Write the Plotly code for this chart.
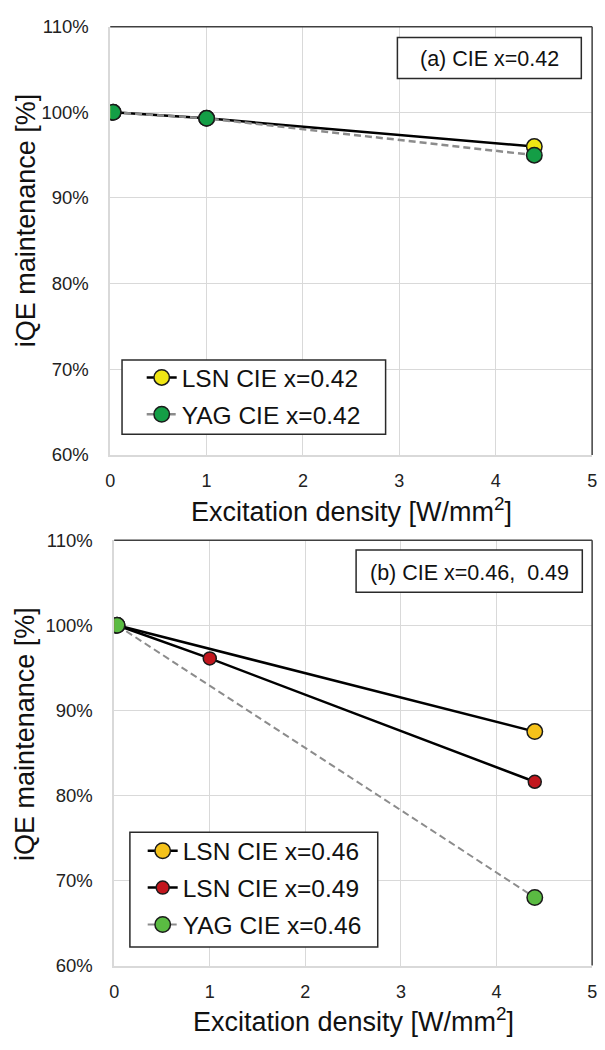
import plotly.graph_objects as go

# ---- data ----
x_a = [0.03, 1.0, 4.4]
lsn_042 = [100.0, 99.3, 96.0]
yag_042 = [100.0, 99.3, 95.0]

x_b2 = [0.03, 4.4]
x_b3 = [0.03, 1.0, 4.4]
lsn_046 = [100.0, 87.5]
lsn_049 = [100.0, 96.1, 81.6]
yag_046 = [100.0, 68.0]

x_ticks = [0, 1, 2, 3, 4, 5]
y_ticks = [60, 70, 80, 90, 100, 110]
y_ticklabels = ["60%", "70%", "80%", "90%", "100%", "110%"]

FONT = "Arial, Liberation Sans, sans-serif"
W, H = 605, 1050

fig = go.Figure()

def add(x, y, name, color, dash, size, xa, ya, legend, lcolor, lwidth):
    fig.add_trace(go.Scatter(
        x=x, y=y, name=name, mode="lines+markers",
        line=dict(color=lcolor, width=lwidth, dash=dash),
        marker=dict(size=size, color=color, line=dict(color="#1a1a1a", width=1.5)),
        xaxis=xa, yaxis=ya, legend=legend, legendgroup=name,
    ))

DASH = "7px,4px"
add(x_a, lsn_042, "LSN CIE x=0.42", "#f0e614", "solid", 15.5, "x", "y", "legend", "#000000", 2.5)
add(x_a, yag_042, "YAG CIE x=0.42", "#149e46", DASH, 15.5, "x", "y", "legend", "#8c8c8c", 2.5)
add(x_b2, lsn_046, "LSN CIE x=0.46", "#f5c21a", "solid", 15.5, "x2", "y2", "legend2", "#000000", 2.5)
add(x_b3, lsn_049, "LSN CIE x=0.49", "#c2161d", "solid", 13, "x2", "y2", "legend2", "#000000", 2.5)
add(x_b2, yag_046, "YAG CIE x=0.46", "#5abb42", DASH, 15.5, "x2", "y2", "legend2", "#8c8c8c", 2)

grid = "#d9d9d9"
xcommon = dict(range=[0, 5], tickvals=x_ticks, showgrid=True, gridcolor=grid, gridwidth=1,
               showline=True, linecolor=grid, linewidth=1.5, zeroline=False,
               ticks="outside", ticklen=9, tickcolor="rgba(0,0,0,0)",
               tickfont=dict(size=18, color="#222222", family=FONT))
ycommon = dict(range=[60, 110], tickvals=y_ticks, ticktext=y_ticklabels, showgrid=True,
               gridcolor=grid, gridwidth=1, showline=True, linecolor=grid, linewidth=1.5,
               zeroline=False, ticks="outside", ticklen=16, tickcolor="rgba(0,0,0,0)",
               tickfont=dict(size=18.5, color="#222222", family=FONT))

legend_common = dict(xanchor="left", yanchor="top", bgcolor="rgba(0,0,0,0)",
                     borderwidth=0,
                     font=dict(size=24.5, family=FONT, color="#111111"),
                     traceorder="grouped", tracegroupgap=2, itemwidth=30)

fig.update_layout(
    width=W, height=H,
    margin=dict(l=0, r=0, t=0, b=0),
    paper_bgcolor="white", plot_bgcolor="white",
    font=dict(family=FONT, color="#111111"),
    xaxis=dict(domain=[107/W, 597/W], anchor="y", **xcommon),
    yaxis=dict(domain=[1-453/H, 1-16/H], anchor="x", **ycommon),
    xaxis2=dict(domain=[111/W, 597/W], anchor="y2", **xcommon),
    yaxis2=dict(domain=[1-974/H, 1-540/H], anchor="x2", **ycommon),
    legend=dict(x=139/W, y=1-351/H, **legend_common),
    legend2=dict(x=140/W, y=1-834/H, **legend_common),
    showlegend=True,
)

# darker top/right frame lines
for xr, yr in (("x domain", "y domain"), ("x2 domain", "y2 domain")):
    fig.add_shape(type="line", xref=xr, yref=yr, x0=0, x1=1, y0=1, y1=1,
                  line=dict(color="#404040", width=1.5))
    fig.add_shape(type="line", xref=xr, yref=yr, x0=1, x1=1, y0=0, y1=1,
                  line=dict(color="#404040", width=1.5))

# boxes (legend frames and label frames), in pixel coordinates of the page
def box(x0, y0, x1, y1):
    fig.add_shape(type="rect", xref="paper", yref="paper", layer="above",
                  x0=x0/W, x1=x1/W, y0=1-y1/H, y1=1-y0/H,
                  fillcolor="white", line=dict(color="#2a2a2a", width=1.5))

box(119, 356, 387, 432)
box(127, 838, 379, 955)
box(399, 27, 586, 69)
box(357, 550, 587, 593)

# axis titles
title_font = dict(size=27, family=FONT, color="#111111")
for yc in (214, 738):
    fig.add_annotation(text="iQE maintenance [%]", xref="paper", yref="paper",
                       x=21/W, y=1-yc/H, xanchor="center", yanchor="middle",
                       textangle=-90, showarrow=False, font=title_font)
for xc, yc in (((107 + 597) / 2, 509), ((111 + 597) / 2, 1030)):
    fig.add_annotation(text="Excitation density [W/mm<sup>2</sup>]", xref="paper", yref="paper",
                       x=xc/W, y=1-yc/H, xanchor="center", yanchor="middle",
                       showarrow=False, font=title_font)

lab_font = dict(size=21.5, family=FONT, color="#111111")
fig.add_annotation(text="(a) CIE x=0.42", xref="paper", yref="paper",
                   x=493/W, y=1-49/H, xanchor="center", yanchor="middle",
                   showarrow=False, font=lab_font)
fig.add_annotation(text="(b) CIE x=0.46,  0.49", xref="paper", yref="paper",
                   x=472/W, y=1-573/H, xanchor="center", yanchor="middle",
                   showarrow=False, font=lab_font)

fig.write_html("out.html", post_script="document.body.style.margin='0';")
